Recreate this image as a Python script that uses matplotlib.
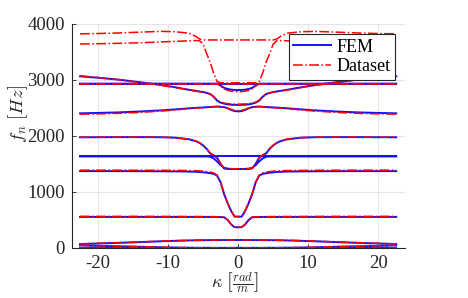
import numpy as np
import matplotlib
matplotlib.use('Agg')
import matplotlib.pyplot as plt

# wavenumber samples (one half; the spectrum is symmetric in kappa)
kappa_half = [0, 0.5, 1, 1.5, 2, 2.5, 3, 3.5, 4, 4.5, 5, 5.5, 6, 7, 9, 11, 14, 17, 20, 22.6]

# FEM branches (Hz) at kappa_half
fem_1 = [2555, 2556, 2558, 2565, 2578, 2595, 2630, 2700, 2750, 2770, 2785, 2795, 2805, 2825, 2870, 2910, 2960, 3005, 3040, 3065]
fem_2 = [2935] * 20
fem_3 = [2820, 2822, 2828, 2840, 2860, 2900, 2935, 2935, 2935, 2935, 2935, 2935, 2935, 2935, 2935, 2935, 2935, 2935, 2935, 2935]
fem_5 = [2440, 2445, 2465, 2495, 2515, 2522, 2525, 2522, 2518, 2514, 2510, 2507, 2503, 2495, 2475, 2458, 2438, 2422, 2412, 2405]
fem_6 = [1410, 1410, 1412, 1415, 1420, 1500, 1610, 1655, 1690, 1770, 1830, 1875, 1905, 1940, 1970, 1978, 1980, 1980, 1978, 1977]
fem_7 = [1635] * 20
fem_7b = [1410, 1410, 1411, 1413, 1430, 1480, 1545, 1600, 1630, 1635, 1635, 1635, 1635, 1635, 1635, 1635, 1635, 1635, 1635, 1635]
fem_8 = [560, 560, 660, 800, 960, 1170, 1290, 1325, 1335, 1345, 1352, 1357, 1360, 1365, 1368, 1370, 1372, 1373, 1373, 1373]
fem_9 = [370, 372, 420, 500, 548, 552, 553, 554, 555, 555, 555, 555, 555, 555, 555, 555, 555, 555, 555, 555]
fem_10 = [143, 143, 143, 143, 142, 142, 141, 141, 140, 140, 139, 138, 137, 135, 128, 120, 105, 92, 80, 70]
fem_11 = [3, 3, 3, 3, 3, 3, 3, 3, 4, 4, 4, 4, 5, 5, 8, 13, 22, 30, 38, 45]
fem_12 = [0] * 20

# Dataset branches (Hz) at kappa_half
data_t1 = [3715, 3715, 3715, 3715, 3715, 3715, 3715, 3715, 3715, 3715, 3715, 3730, 3775, 3835, 3862, 3868, 3855, 3840, 3830, 3825]
data_t2 = [2950, 2950, 2950, 2950, 2950, 2952, 2970, 3120, 3320, 3470, 3640, 3700, 3705, 3700, 3690, 3680, 3665, 3655, 3648, 3643]
data_1 = [2570, 2570, 2572, 2578, 2588, 2605, 2640, 2705, 2750, 2768, 2782, 2792, 2800, 2820, 2865, 2905, 2955, 3005, 3045, 3075]
data_2 = [2935] * 20
data_3 = [2790, 2793, 2800, 2815, 2840, 2890, 2935, 2935, 2935, 2935, 2935, 2935, 2935, 2935, 2935, 2935, 2935, 2935, 2935, 2935]
data_5 = [2455, 2458, 2475, 2500, 2518, 2524, 2526, 2522, 2516, 2510, 2506, 2502, 2498, 2488, 2465, 2445, 2422, 2405, 2395, 2390]
data_6 = [1415, 1415, 1416, 1418, 1425, 1505, 1612, 1658, 1695, 1775, 1835, 1880, 1910, 1945, 1972, 1978, 1980, 1980, 1978, 1977]
data_8 = [562, 562, 665, 805, 965, 1175, 1300, 1340, 1355, 1365, 1372, 1377, 1380, 1383, 1386, 1388, 1389, 1390, 1390, 1390]
data_9 = [372, 374, 422, 502, 552, 556, 558, 559, 560, 560, 561, 561, 562, 562, 563, 564, 565, 565, 565, 566]
data_10 = [145, 145, 145, 145, 144, 144, 143, 143, 142, 142, 141, 140, 139, 137, 131, 123, 109, 96, 84, 75]
data_11 = [3, 3, 3, 3, 3, 3, 3, 3, 4, 4, 4, 4, 5, 6, 9, 14, 23, 32, 40, 48]
data_12 = [0] * 20

fem_series = [fem_1, fem_2, fem_3, fem_5, fem_6, fem_7, fem_7b, fem_8, fem_9, fem_10, fem_11, fem_12]
data_series = [data_t1, data_t2, data_1, data_2, data_3, data_5, data_6, data_8, data_9, data_10, data_11, data_12]

x_ticks = [-20, -10, 0, 10, 20]
y_ticks = [0, 1000, 2000, 3000, 4000]
legend_labels = ['FEM', 'Dataset']

def full(vals):
    k = np.array(kappa_half)
    v = np.array(vals, dtype=float)
    return np.concatenate([-k[:0:-1], k]), np.concatenate([v[:0:-1], v])

plt.rcParams['font.family'] = 'serif'
plt.rcParams['font.serif'] = ['Liberation Serif', 'DejaVu Serif']
plt.rcParams['mathtext.fontset'] = 'cm'

fig = plt.figure(figsize=(4.68, 2.98), dpi=100)
ax = fig.add_axes([72/468, 50/298, 333/468, 224/298])

for i, s in enumerate(fem_series):
    kx, fy = full(s)
    ax.plot(kx, fy, color='#1010ff', lw=1.4, label=legend_labels[0] if i == 0 else None, zorder=3)
for i, s in enumerate(data_series):
    kx, fy = full(s)
    ax.plot(kx, fy, color='#ff0000', lw=1.1, ls='-.', label=legend_labels[1] if i == 0 else None, zorder=4)

ax.set_xlim(-23.75, 23.85)
ax.set_ylim(0, 4000)
ax.set_xticks(x_ticks)
ax.set_yticks(y_ticks)
ax.set_xticklabels([str(t) for t in x_ticks])
ax.grid(True, color='#e6e6e6', lw=0.8)
ax.set_axisbelow(True)
for sp in ['top', 'right']:
    ax.spines[sp].set_visible(False)
for sp in ['left', 'bottom']:
    ax.spines[sp].set_color('#262626')
    ax.spines[sp].set_linewidth(0.8)
ax.tick_params(direction='in', length=3, width=0.6, colors='#262626', labelsize=13.5, pad=5)

ax.set_ylabel(r'$f_n\ [Hz]$', fontsize=13.5, color='#262626')
ax.yaxis.set_label_coords(-0.125, 0.6)
ax.set_xlabel(r'$\kappa\ \left[\frac{rad}{m}\right]$', fontsize=13, color='#262626')
ax.xaxis.set_label_coords(0.49, -0.1)

leg = ax.legend(loc='upper right', bbox_to_anchor=(0.97, 0.955), borderaxespad=0,
                fontsize=13, frameon=True, fancybox=False, framealpha=1,
                edgecolor='#262626', handlelength=2.1, borderpad=0.25, labelspacing=0.15,
                handletextpad=0.3)
leg.get_frame().set_linewidth(0.8)

fig.savefig('out.png', dpi=100)
